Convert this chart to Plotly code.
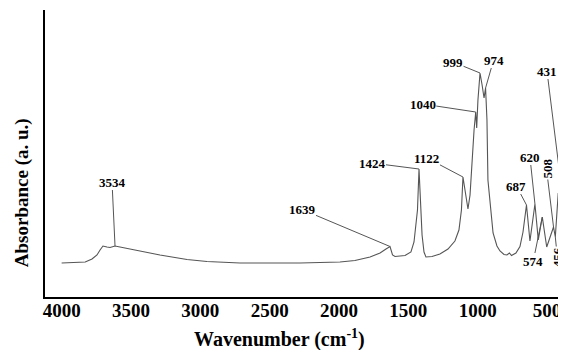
import numpy as np
import plotly.graph_objects as go

# Spectrum (wavenumber cm-1, absorbance a.u.)
wavenumber = [4000, 3830, 3781, 3745, 3723, 3702, 3673, 3651, 3615, 3579, 3435, 3291,
              3096, 2952, 2714, 2476, 2281, 1993, 1885, 1776, 1704, 1661, 1632, 1614,
              1596, 1524, 1481, 1459, 1445, 1434, 1423, 1412, 1401, 1387, 1373, 1329,
              1272, 1214, 1164, 1135, 1117, 1106, 1091, 1070, 1055, 1041, 1026, 1014,
              1007, 998, 983, 968, 954, 943, 933, 926, 911, 889, 861, 839, 810, 789,
              771, 756, 724, 695, 673, 648, 623, 587, 563, 534, 502, 466, 453, 440,
              428, 419, 406, 392, 363]
absorbance = [0.34, 0.35, 0.38, 0.42, 0.47, 0.51, 0.50, 0.495, 0.51, 0.50, 0.46, 0.42,
              0.375, 0.355, 0.34, 0.34, 0.34, 0.35, 0.365, 0.40, 0.44, 0.48, 0.505, 0.42,
              0.405, 0.415, 0.45, 0.55, 0.72, 0.87, 1.28, 0.97, 0.62, 0.45, 0.40, 0.405,
              0.43, 0.48, 0.56, 0.67, 0.87, 1.20, 1.07, 0.88, 1.02, 1.37, 1.67, 1.85,
              1.69, 1.97, 2.24, 2.12, 1.99, 2.09, 1.77, 1.17, 0.94, 0.64, 0.51, 0.46, 0.425, 0.42,
              0.44, 0.415, 0.44, 0.505, 0.65, 0.92, 0.56, 0.93, 0.57, 0.80, 0.50, 0.64, 0.70, 0.60,
              0.94, 1.04, 0.91, 1.05, 0.80]

# Peak labels and where their leader lines touch the curve
peak_labels = ["3534", "1639", "1424", "1122", "1040", "999", "974", "431",
               "687", "620", "508", "574", "456"]
peak_wn = [3615, 1632, 1423, 1106, 1014, 983, 943, 392, 648, 587, 453, 534, 440]

xticks = [4000, 3500, 3000, 2500, 2000, 1500, 1000, 500]

# styling: label offsets (pixels) and rotation
label_dx = [-3, -88, -47, -36, -53, -27, 8, -15, -10, -5, -7, -9, 2]
label_dy = [-64, -37, -6, -19, -8, -11, -28, -121, -19, -47, -58, 44, 20]
label_rot = [0, 0, 0, 0, 0, 0, 0, 0, 0, 0, -90, 0, -90]

wn_sorted = np.array(wavenumber[::-1], dtype=float)
ab_sorted = np.array(absorbance[::-1], dtype=float)

fig = go.Figure()
fig.add_trace(go.Scatter(x=wavenumber, y=absorbance, mode="lines",
                         line=dict(color="#555555", width=1.1), hoverinfo="skip"))

font_b = dict(family="Liberation Serif", color="black", weight="bold")

for lab, w, dx, dy, rot in zip(peak_labels, peak_wn, label_dx, label_dy, label_rot):
    yv = float(np.interp(w, wn_sorted, ab_sorted))
    fig.add_annotation(x=w, y=yv, xref="x", yref="y", text=lab, showarrow=True,
                       arrowhead=0, arrowwidth=1, arrowcolor="#555555",
                       ax=dx, ay=dy, textangle=rot, standoff=0, borderpad=0,
                       font=dict(size=13, **font_b))

fig.add_annotation(text="Wavenumber (cm<sup>-1</sup>)", xref="paper", yref="paper",
                   x=0.451, y=-0.146, showarrow=False, xanchor="center", yanchor="middle",
                   font=dict(size=20, **font_b))
fig.add_annotation(text="Absorbance (a. u.)", xref="paper", yref="paper",
                   x=-0.044, y=0.362, showarrow=False, textangle=-90,
                   xanchor="center", yanchor="middle", font=dict(size=19, **font_b))

fig.update_xaxes(range=[4120, 363], tickvals=xticks, ticks="", showgrid=False,
                 zeroline=False, showline=True, linecolor="black", linewidth=2,
                 tickfont=dict(size=19, **font_b), ticklabelstandoff=-5)
fig.update_yaxes(range=[0, 2.87], showticklabels=False, ticks="", showgrid=False,
                 zeroline=False, showline=True, linecolor="black", linewidth=2)
# page body adds an 8px offset, so the figure is sized to end at the window edge
fig.update_layout(width=558, height=342, margin=dict(l=37, r=0, t=2, b=53),
                  plot_bgcolor="white", paper_bgcolor="white", showlegend=False)

fig.write_html("out.html")
